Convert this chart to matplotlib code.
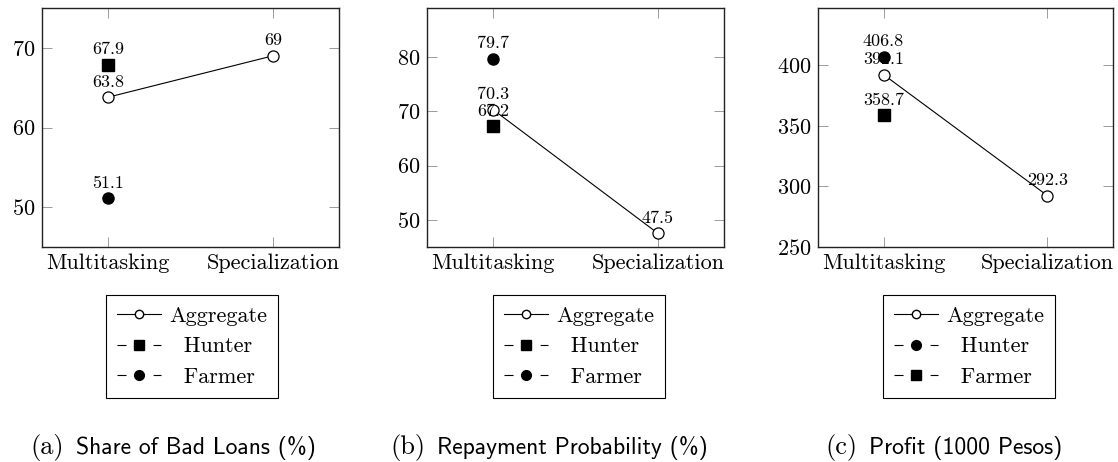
import numpy as np
import matplotlib.pyplot as plt
import matplotlib as mpl

mpl.rcParams['font.family'] = 'serif'
mpl.rcParams['font.serif'] = ['cmr10', 'DejaVu Serif']
mpl.rcParams['axes.formatter.use_mathtext'] = True
mpl.rcParams['axes.linewidth'] = 1.0
mpl.rcParams['axes.edgecolor'] = '#222222'
mpl.rcParams['lines.scale_dashes'] = False

categories = ["Multitasking", "Specialization"]

# panel (a) share of bad loans
agg_a = [63.8, 69.0]
hunter_a = 67.9
farmer_a = 51.1
# panel (b) repayment probability
agg_b = [70.3, 47.5]
hunter_b = 67.2
farmer_b = 79.7
# panel (c) profit
agg_c = [392.1, 292.3]
hunter_c = 406.8
farmer_c = 358.7

labels_agg_a = ["63.8", "69"]
labels_agg_b = ["70.3", "47.5"]
labels_agg_c = ["392.1", "292.3"]

captions = [("(a)", "Share of Bad Loans (%)"),
            ("(b)", "Repayment Probability (%)"),
            ("(c)", "Profit (1000 Pesos)")]

W, H = 1118, 462
fig = plt.figure(figsize=(W / 100, H / 100), dpi=100)


def px_axes(x0, x1, y0, y1):
    return fig.add_axes([x0 / W, 1 - y1 / H, (x1 - x0) / W, (y1 - y0) / H])


def label(ax, x, y, t):
    ax.annotate(t, (x, y), xytext=(0, 7.5), textcoords='offset points',
                ha='center', va='baseline', fontsize=13, zorder=6)


def draw_panel(ax, agg, agg_labels, hunter, farmer, hunter_marker, farmer_marker,
               ylim, yticks, leg_center):
    x = np.arange(len(categories))
    ax.plot(x, agg, '-', color='k', lw=0.8, marker='o', ms=8,
            mfc='white', mec='k', mew=0.9, zorder=3)
    for xi, yi, t in zip(x, agg, agg_labels):
        label(ax, xi, yi, t)
    ax.plot([0], [hunter], ls='none', marker=hunter_marker, ms=8,
            color='k', zorder=5)
    label(ax, 0, hunter, f"{hunter}")
    ax.plot([0], [farmer], ls='none', marker=farmer_marker, ms=8,
            color='k', zorder=5)
    label(ax, 0, farmer, f"{farmer}")

    ax.set_xlim(-0.4, 1.4)
    ax.set_ylim(*ylim)
    ax.set_yticks(yticks)
    ax.set_xticks(x)
    ax.set_xticklabels(categories)
    ax.tick_params(axis='both', direction='in', top=True, right=True,
                   length=7, width=0.6, color='#8c8c8c', labelsize=16, pad=5)

    dash = (0, (6.5, 19.5))
    h1 = mpl.lines.Line2D([], [], color='k', lw=0.8, marker='o', ms=6,
                          mfc='white', mec='k')
    h2 = mpl.lines.Line2D([], [], color='k', lw=0.8, ls=dash,
                          marker=hunter_marker, ms=7)
    h3 = mpl.lines.Line2D([], [], color='k', lw=0.8, ls=dash,
                          marker=farmer_marker, ms=7)
    leg = ax.legend([h1, h2, h3], ["Aggregate", "  Hunter", "  Farmer"],
                    loc='upper center', bbox_to_anchor=(leg_center / W, 1 - 295 / H),
                    bbox_transform=fig.transFigure, fontsize=16, fancybox=False,
                    edgecolor='k', framealpha=1, handlelength=2.0,
                    handletextpad=0.35, labelspacing=0.5, borderpad=0.5,
                    borderaxespad=0)
    leg.get_frame().set_linewidth(0.8)


ax1 = px_axes(42, 339, 8, 247)
draw_panel(ax1, agg_a, labels_agg_a, hunter_a, farmer_a, 's', 'o',
           (45, 75), [50, 60, 70], 192)
ax2 = px_axes(427, 724, 8, 247)
draw_panel(ax2, agg_b, labels_agg_b, hunter_b, farmer_b, 's', 'o',
           (45, 89), [50, 60, 70, 80], 579)
ax3 = px_axes(818, 1113, 8, 247)
draw_panel(ax3, agg_c, labels_agg_c, hunter_c, farmer_c, 'o', 's',
           (250, 447), [250, 300, 350, 400], 969)

cap_starts = [30, 390, 825]
for (tag, txt), x0 in zip(captions, cap_starts):
    t1 = fig.text(x0 / W, 1 - 454 / H, tag, fontsize=19, family='serif',
                  va='baseline')
    fig.canvas.draw()
    w1 = t1.get_window_extent(fig.canvas.get_renderer()).width
    fig.text((x0 + w1 + 12) / W, 1 - 454 / H, txt, fontsize=17,
             family=['cmss10', 'DejaVu Sans'], va='baseline')

fig.savefig("out.png", dpi=100)
